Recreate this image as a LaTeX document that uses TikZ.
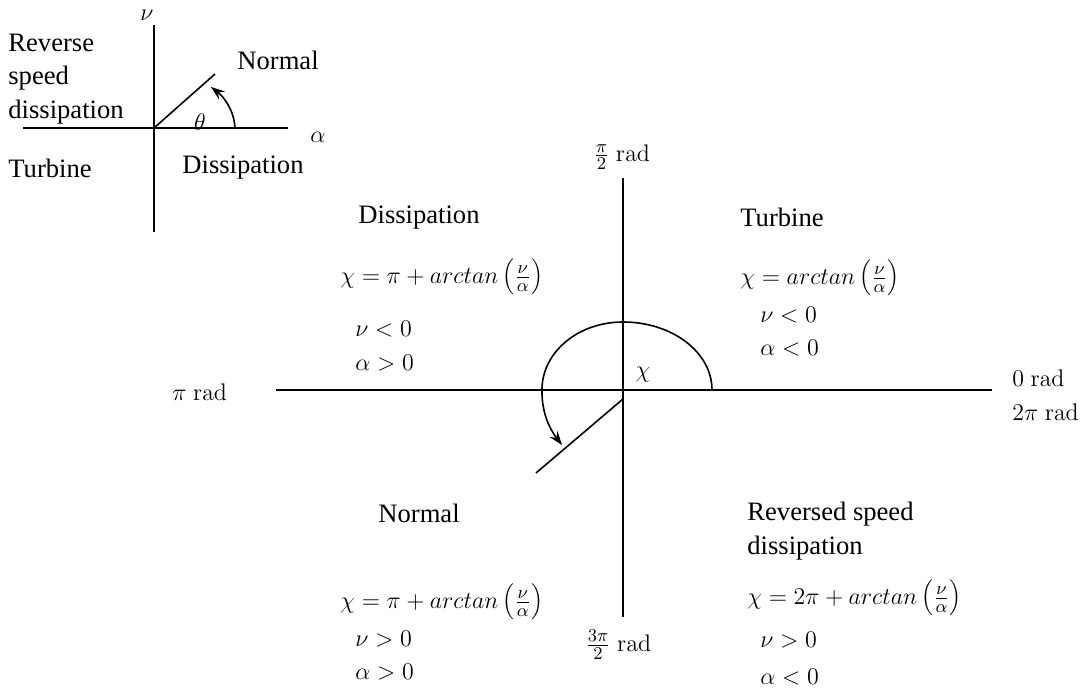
\documentclass[tikz,border=0pt]{standalone}
\usepackage[no-math]{fontspec}
\setmainfont{Liberation Serif}
\usetikzlibrary{arrows.meta}
\begin{document}
\begin{tikzpicture}[x=0.5pt,y=-0.5pt,
  every node/.style={inner sep=0pt, font=\fontsize{13}{16.8}\selectfont},
  axisline/.style={line width=0.8pt},
  turnarrow/.style={line width=0.8pt, -{Stealth[length=7pt,width=5pt,inset=2.5pt]}},
  lbl/.style={anchor=west},
  word/.style={anchor=west, font=\fontsize{13.3}{16.8}\selectfont},
  multi/.style={anchor=west, align=left, font=\fontsize{13.3}{16.8}\selectfont}]
\useasboundingbox (0,0) rectangle (1087,690);
% ---------- small reference diagram ----------
\coordinate (sO) at (154,128);
\coordinate (sT) at (154,25);
\coordinate (sB) at (154,232);
\coordinate (sL) at (23,128);
\coordinate (sR) at (288,128);
\coordinate (sD) at (215,74);
\coordinate (sA0) at (235,128);
\coordinate (sA1) at (211,87);
\draw[axisline] (sT) -- (sB);
\draw[axisline] (sL) -- (sR);
\draw[axisline] (sO) -- (sD);
\draw[turnarrow] (sA0) .. controls (234,110) and (224,97) .. (sA1);
\node (snu) at (147,15) {$\nu$};
\node (salpha) at (318,137) {$\alpha$};
\node (stheta) at (200,122) {$\theta$};
\node[word] (snormal) at (237,60) {Normal};
\node[multi] (srev) at (8,79) {Reverse\\speed\\dissipation};
\node[word] (sturb) at (8,168) {Turbine};
\node[word] (sdiss) at (182,168) {Dissipation};
% ---------- main diagram ----------
\coordinate (O) at (623,390);
\coordinate (T) at (623,178);
\coordinate (B) at (623,617);
\coordinate (L) at (276,390);
\coordinate (R) at (992,390);
\coordinate (D0) at (623,399);
\coordinate (D1) at (536,473);
\coordinate (A0) at (712,390);
\coordinate (A1) at (623,322);
\coordinate (A2) at (542,388);
\coordinate (A3) at (562,445);
\draw[axisline] (T) -- (B);
\draw[axisline] (L) -- (R);
\draw[axisline] (D0) -- (D1);
\draw[turnarrow] (A0) .. controls (712,352) and (672,322) .. (A1)
  .. controls (578,322) and (543,352) .. (A2)
  .. controls (541,415) and (552,432) .. (A3);
\node (chi) at (643,375) {$\chi$};
\node[lbl] (rhalf) at (593,157) {$\frac{\pi}{2}\ \mathrm{rad}$};
\node[lbl] (rthree) at (585,645) {$\frac{3\pi}{2}\ \mathrm{rad}$};
\node[lbl] (rpi) at (172,392) {$\pi\ \mathrm{rad}$};
\node[lbl] (rzero) at (1012,378) {$0\ \mathrm{rad}$};
\node[lbl] (rtwo) at (1012,412) {$2\pi\ \mathrm{rad}$};
% top-left quadrant
\node[word] (qdiss) at (358,218) {Dissipation};
\node[lbl] (qdissf) at (340,277) {$\chi = \pi + arctan\left(\frac{\nu}{\alpha}\right)$};
\node[lbl] (qdissn) at (355,329) {$\nu < 0$};
\node[lbl] (qdissa) at (355,363) {$\alpha > 0$};
% top-right quadrant
\node[word] (qturb) at (740,217) {Turbine};
\node[lbl] (qturbf) at (740,278) {$\chi = arctan\left(\frac{\nu}{\alpha}\right)$};
\node[lbl] (qturbn) at (760,315) {$\nu < 0$};
\node[lbl] (qturba) at (760,348) {$\alpha < 0$};
% bottom-left quadrant
\node[word] (qnorm) at (378,513) {Normal};
\node[lbl] (qnormf) at (340,602) {$\chi = \pi + arctan\left(\frac{\nu}{\alpha}\right)$};
\node[lbl] (qnormn) at (355,639) {$\nu > 0$};
\node[lbl] (qnorma) at (355,672) {$\alpha > 0$};
% bottom-right quadrant
\node[multi] (qrev) at (747,531) {Reversed speed\\dissipation};
\node[lbl] (qrevf) at (747,598) {$\chi = 2\pi + arctan\left(\frac{\nu}{\alpha}\right)$};
\node[lbl] (qrevn) at (760,640) {$\nu > 0$};
\node[lbl] (qreva) at (760,677) {$\alpha < 0$};
\end{tikzpicture}
\end{document}
